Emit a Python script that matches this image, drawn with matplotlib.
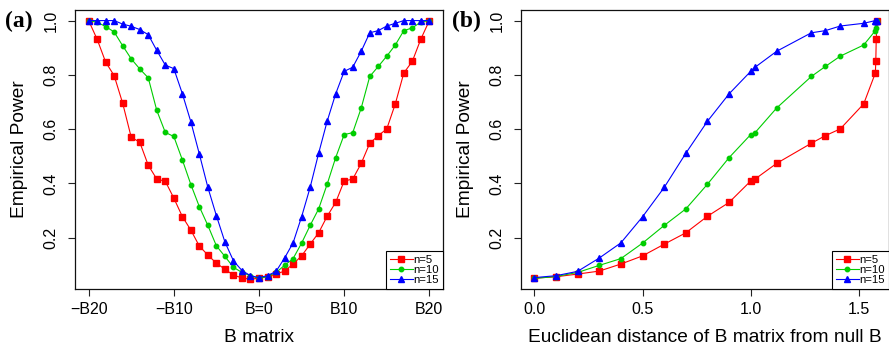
import numpy as np
import matplotlib
matplotlib.use("Agg")
import matplotlib.pyplot as plt

# B matrix index, -B20 ... B=0 ... B20
b_index = list(range(-20, 21))

power_n5 = [1.000, 0.931, 0.847, 0.797, 0.695, 0.570, 0.552, 0.467, 0.416, 0.408,
            0.346, 0.278, 0.228, 0.169, 0.136, 0.106, 0.084, 0.062, 0.052, 0.047,
            0.051,
            0.056, 0.066, 0.077, 0.103, 0.133, 0.176, 0.218, 0.279, 0.330, 0.409,
            0.416, 0.474, 0.548, 0.576, 0.601, 0.693, 0.807, 0.850, 0.932, 1.000]
power_n10 = [1.000, 0.994, 0.978, 0.958, 0.907, 0.859, 0.822, 0.789, 0.669, 0.588,
             0.573, 0.487, 0.396, 0.314, 0.245, 0.170, 0.131, 0.091, 0.072, 0.060,
             0.050,
             0.057, 0.072, 0.098, 0.123, 0.180, 0.245, 0.306, 0.397, 0.495, 0.580,
             0.587, 0.678, 0.794, 0.831, 0.869, 0.910, 0.963, 0.973, 0.995, 1.000]
power_n15 = [1.000, 1.000, 1.000, 1.000, 0.987, 0.979, 0.967, 0.948, 0.890, 0.836,
             0.823, 0.731, 0.627, 0.508, 0.385, 0.281, 0.184, 0.115, 0.079, 0.060,
             0.053,
             0.060, 0.076, 0.125, 0.181, 0.277, 0.385, 0.511, 0.629, 0.730, 0.813,
             0.828, 0.887, 0.955, 0.963, 0.980, 0.990, 1.000, 1.000, 1.000, 1.000]

# euclidean distance of B0..B20 from the null B
distance = [0.0, 0.1, 0.2, 0.3, 0.4, 0.5, 0.6, 0.7, 0.8, 0.9, 1.0,
            1.02, 1.12, 1.28, 1.345, 1.414, 1.522, 1.576, 1.578, 1.580, 1.585]

xticks_a = [-20, -10, 0, 10, 20]
xticklabels_a = ["\u2212B20", "\u2212B10", "B=0", "B10", "B20"]
yticks = [0.2, 0.4, 0.6, 0.8, 1.0]
labels = ["n=5", "n=10", "n=15"]

styles = [dict(color="#FF0000", marker="s", ms=4.4),
          dict(color="#00CD00", marker="o", ms=3.2),
          dict(color="#0000FF", marker="^", ms=4.8)]

plt.rcParams["font.family"] = ["Liberation Sans", "DejaVu Sans"]

fig = plt.figure(figsize=(8.89, 3.52), dpi=100)
ax_a = fig.add_axes([75 / 889, 63 / 352, 368 / 889, 279 / 352])
ax_b = fig.add_axes([521 / 889, 63 / 352, 368 / 889, 279 / 352])

series = [power_n5, power_n10, power_n15]
right_half = b_index.index(0)

for ys, st, lab in zip(series, styles, labels):
    ax_a.plot(b_index, ys, lw=0.8, mec=st["color"], label=lab, **st)
    ax_b.plot(distance, ys[right_half:], lw=0.8, mec=st["color"], label=lab, **st)

def style_axes(ax):
    ax.set_ylim(0.011, 1.039)
    ax.set_yticks(yticks)
    ax.set_yticklabels([f"{v:.1f}" for v in yticks])
    ax.tick_params(axis="both", length=5, width=0.8, labelsize=11.5, color="#222222")
    ax.tick_params(axis="x", pad=4)
    ax.tick_params(axis="y", pad=7, labelrotation=90)
    for lbl in ax.get_yticklabels():
        lbl.set_va("center")
    for sp in ax.spines.values():
        sp.set_linewidth(0.9)
        sp.set_color("#111111")
    ax.set_ylabel("Empirical Power", fontsize=13.8, labelpad=11)
    leg = ax.legend(loc="lower right", bbox_to_anchor=(1, 0), borderaxespad=0,
                    fancybox=False, edgecolor="black", framealpha=1, fontsize=8.2,
                    handlelength=2.0, handletextpad=0.05, labelspacing=0.0,
                    borderpad=0.35)
    leg.get_frame().set_linewidth(0.8)

style_axes(ax_a)
ax_a.set_xlim(-21.6, 21.6)
ax_a.set_xticks(xticks_a)
ax_a.set_xticklabels(xticklabels_a)
ax_a.set_xlabel("B matrix", fontsize=13.8, labelpad=9)

style_axes(ax_b)
ax_b.set_xlim(-0.0615, 1.639)
ax_b.set_xticks([0.0, 0.5, 1.0, 1.5])
ax_b.set_xticklabels(["0.0", "0.5", "1.0", "1.5"])
ax_b.set_xlabel("Euclidean distance of B matrix from null B", fontsize=13.8, labelpad=9)

fig.text(5 / 889, 1 - 27 / 352, "(a)", fontsize=17, fontweight="bold",
         family=["Liberation Serif", "DejaVu Serif"])
fig.text(452 / 889, 1 - 27 / 352, "(b)", fontsize=17, fontweight="bold",
         family=["Liberation Serif", "DejaVu Serif"])

fig.savefig("out.png", dpi=100)
